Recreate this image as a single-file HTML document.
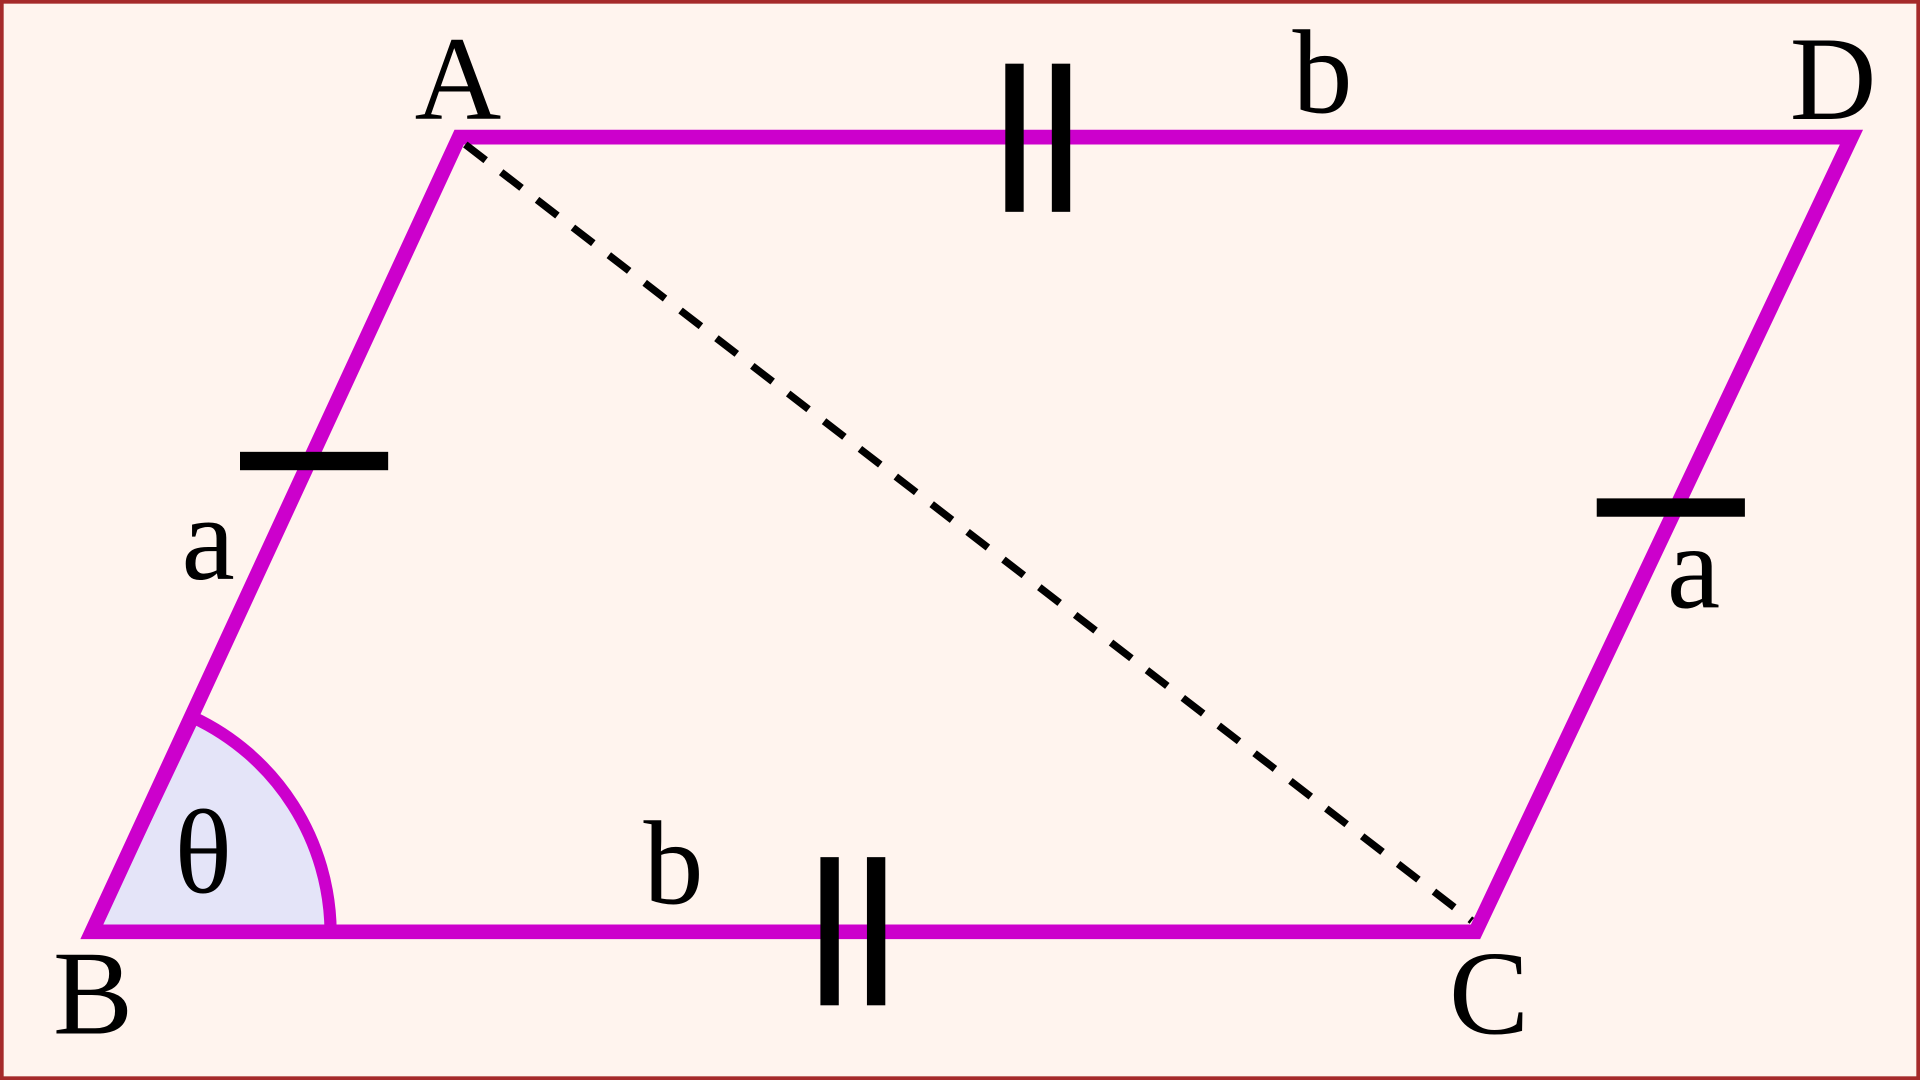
<!DOCTYPE html>
<html><head><meta charset="utf-8"><style>
html,body{margin:0;padding:0;background:#fff4ee;}
svg{display:block}
text{font-family:"Liberation Serif",serif;fill:#000}
</style></head><body>
<svg width="1920" height="1080" viewBox="0 0 1568 882" preserveAspectRatio="none">
<rect x="1.5" y="1.5" width="1565" height="879" fill="#fff4ee" stroke="#a52a2a" stroke-width="3"/>
<path d="M75,761 L158,586 A195,195 0 0 1 270,761 Z" fill="#e4e4f8" stroke="#cc00cc" stroke-width="10" stroke-linejoin="miter"/>
<polygon points="375,112 1512,112 1205,761 75,761" fill="none" stroke="#cc00cc" stroke-width="12" stroke-linejoin="miter"/>
<line x1="380" y1="118" x2="1202" y2="752" stroke="#000" stroke-width="6" stroke-dasharray="21 16"/>
<rect x="821" y="52" width="15" height="121" fill="#000"/>
<rect x="859" y="52" width="15" height="121" fill="#000"/>
<rect x="670" y="700" width="15" height="121" fill="#000"/>
<rect x="708" y="700" width="15" height="121" fill="#000"/>
<rect x="196" y="369" width="121" height="15" fill="#000"/>
<rect x="1304" y="407" width="121" height="15" fill="#000"/>
<g font-size="98" text-anchor="middle">
<text x="374" y="97">A</text>
<text x="1080" y="92">b</text>
<text x="1497" y="97">D</text>
<text x="170" y="473">a</text>
<text x="1383" y="496">a</text>
<text x="76" y="844">B</text>
<text x="1216" y="844">C</text>
<text x="550" y="738">b</text>
<text x="166" y="729">θ</text>
</g>
</svg>
</body></html>
